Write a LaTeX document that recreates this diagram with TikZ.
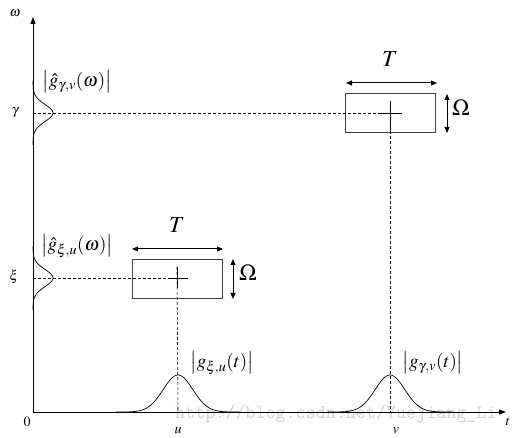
\documentclass[tikz,border=0pt]{standalone}
\usepackage{mathptmx}
\usetikzlibrary{arrows.meta}
\begin{document}
\begin{tikzpicture}[x=1pt,y=-1pt,
  axis/.style={line width=0.9pt,-{Triangle[length=7pt,width=5pt]}},
  guide/.style={dashed,line width=0.6pt,dash pattern=on 3pt off 2pt},
  cross/.style={line width=0.6pt},
  tbox/.style={draw=black!75,line width=0.9pt,minimum width=90pt,minimum height=39pt,inner sep=0pt},
  dimarrow/.style={line width=1pt,{Triangle[length=6pt,width=5pt]}-{Triangle[length=6pt,width=5pt]}},
  curve/.style={line width=0.7pt},
  small/.style={font=\fontsize{14}{16}\selectfont},
  big/.style={font=\fontsize{23}{27}\selectfont},
  lab/.style={font=\fontsize{19}{22}\selectfont}]
\useasboundingbox (0,0) rectangle (512,438);
% watermark
\node[text=black!18,font=\ttfamily\fontsize{19.5}{22}\selectfont,anchor=base west,inner sep=0pt] (wm) at (175,419) {http://blog.csdn.net/Yuejiang\_Li};
% axes
\coordinate (O) at (33,412);
\coordinate (ytip) at (33,17);
\coordinate (xtip) at (506,412);
\draw[axis] (O) -- (ytip);
\draw[axis] (O) -- (xtip);
\node[small] (lw) at (15,13) {$\omega$};
\node[small] (lt) at (508,422) {$t$};
\node[small] (l0) at (27,422) {$0$};
\node[small] (lu) at (178,431) {$u$};
\node[small] (lv) at (396,431) {$v$};
\node[small] (lg) at (15,113) {$\gamma$};
\node[small] (lx) at (14,277) {$\xi$};
% boxes
\node[tbox] (b2) at (390.5,112.5) {};
\node[tbox] (b1) at (177,278.5) {};
\coordinate (c2) at (390,113);
\coordinate (c1) at (177,278);
% guide lines
\coordinate (g2) at (33,113);
\coordinate (g1) at (33,278);
\coordinate (u0) at (178,412);
\coordinate (v0) at (390,412);
\draw[guide] (g2) -- ([xshift=-10pt]c2);
\draw[guide] (g1) -- ([xshift=-9pt]c1);
\draw[guide] ([yshift=12pt]c2) -- (v0);
\draw[guide] ([yshift=11pt]c1) -- (u0);
% crosshairs
\draw[cross] ([xshift=-10pt]c2) -- ([xshift=12pt]c2);
\draw[cross] ([yshift=-18pt]c2) -- ([yshift=12pt]c2);
\draw[cross] ([xshift=-9pt]c1) -- ([xshift=11pt]c1);
\draw[cross] ([yshift=-10pt]c1) -- ([yshift=11pt]c1);
% dimension arrows
\coordinate (t2a) at (346,83); \coordinate (t2b) at (437,83);
\coordinate (o2a) at (447,94); \coordinate (o2b) at (447,133);
\coordinate (t1a) at (132,249); \coordinate (t1b) at (223,249);
\coordinate (o1a) at (233,259); \coordinate (o1b) at (233,299);
\draw[dimarrow] (t2a) -- (t2b);
\draw[dimarrow] (o2a) -- (o2b);
\draw[dimarrow] (t1a) -- (t1b);
\draw[dimarrow] (o1a) -- (o1b);
\node[big] (T2) at (390,59) {$T$};
\node[big] (O2) at (461,108) {$\Omega$};
\node[big] (T1) at (177,225) {$T$};
\node[big] (O1) at (248,273) {$\Omega$};
% gaussians
\draw[curve] plot[domain=-62:62,samples=80,smooth] ({178+\x},{412-37*exp(-(\x/21)^2)});
\draw[curve] plot[domain=-62:62,samples=80,smooth] ({390+\x},{412-37*exp(-(\x/21)^2)});
\draw[curve] plot[domain=-32:32,samples=60,smooth] ({33+20*exp(-(\x/12)^2)},{113+\x});
\draw[curve] plot[domain=-32:32,samples=60,smooth] ({33+20*exp(-(\x/12)^2)},{278+\x});
% labels
\node[lab] (L1) at (77,82) {$\left|\hat{g}_{\gamma,v}(\omega)\right|$};
\node[lab] (L2) at (77,246) {$\left|\hat{g}_{\xi,u}(\omega)\right|$};
\node[lab] (L3) at (222,363) {$\left|g_{\xi,u}(t)\right|$};
\node[lab] (L4) at (433,363) {$\left|g_{\gamma,v}(t)\right|$};
\end{tikzpicture}
\end{document}
